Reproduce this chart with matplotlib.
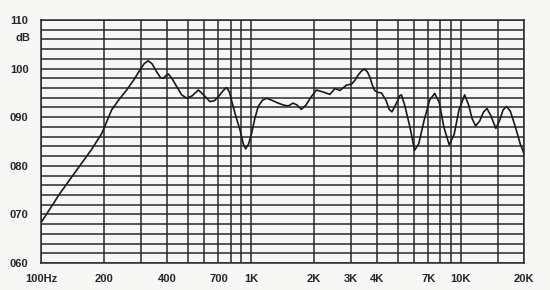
import matplotlib
matplotlib.use('Agg')
import matplotlib.pyplot as plt

# frequency response (Hz, dB)
freq = [100, 123, 153, 175, 195, 217, 235, 256, 278, 296, 310, 324, 338, 355,
        370, 383, 395, 404, 420, 443, 468, 495, 525, 562, 598, 638, 670, 699,
        735, 765, 790, 808, 850, 887, 920, 944, 975, 1008, 1045, 1084, 1135,
        1190, 1270, 1349, 1430, 1506, 1587, 1660, 1739, 1830, 1938, 2050, 2200,
        2378, 2515, 2656, 2851, 3013, 3130, 3246, 3360, 3485, 3590, 3684, 3790,
        3889, 4020, 4188, 4400, 4560, 4700, 4900, 5117, 5215, 5400, 5722, 6025,
        6300, 6700, 7100, 7510, 7900, 8300, 8808, 9300, 9800, 10430, 10900,
        11300, 11760, 12300, 12800, 13330, 13900, 14690, 15300, 15900, 16510,
        17200, 18200, 19200, 20000]
spl = [68.3, 74.3, 80.0, 83.5, 86.7, 91.5, 93.6, 95.6, 97.8, 99.7, 101.0, 101.6,
       101.0, 99.4, 98.2, 98.0, 98.6, 98.9, 98.0, 96.3, 94.6, 93.9, 94.4, 95.6,
       94.5, 93.2, 93.4, 94.2, 95.4, 96.1, 95.2, 93.5, 90.0, 87.4, 84.5, 83.5,
       84.5, 86.7, 89.8, 92.2, 93.5, 93.9, 93.4, 92.9, 92.5, 92.3, 92.9, 92.5,
       91.6, 92.5, 94.2, 95.6, 95.2, 94.7, 95.9, 95.5, 96.6, 96.8, 97.6, 98.7,
       99.5, 99.9, 99.3, 98.3, 96.6, 95.5, 95.1, 95.0, 93.5, 91.6, 91.1, 92.6,
       94.4, 94.6, 92.5, 88.0, 83.2, 84.5, 89.5, 93.5, 94.9, 93.0, 88.0, 84.3,
       86.5, 91.5, 94.6, 92.5, 89.8, 88.2, 89.2, 91.0, 91.8, 90.3, 87.7, 89.3,
       91.5, 92.2, 91.3, 88.0, 84.5, 82.5]

# grid and labels
grid_freqs = [100, 200, 300, 400, 500, 600, 700, 800, 900, 1000, 2000, 3000,
              4000, 5000, 6000, 7000, 8000, 9000, 10000, 15000, 20000]
grid_db = list(range(60, 111, 2))
xtick_vals = [100, 200, 400, 700, 1000, 2000, 3000, 4000, 7000, 10000, 20000]
xtick_labels = ['100Hz', '200', '400', '700', '1K', '2K', '3K', '4K', '7K', '10K', '20K']
ytick_vals = [60, 70, 80, 90, 100, 110]
ytick_labels = ['060', '070', '080', '090', '100', '110']

bg = '#f7f7f5'
ink = '#2a2a2a'
txt = '#262626'
plt.rcParams['font.family'] = ['Liberation Sans Narrow', 'Liberation Sans', 'DejaVu Sans']

fig = plt.figure(figsize=(5.5, 2.9), dpi=100, facecolor=bg)
ax = fig.add_axes([41 / 550, 1 - 263 / 290, 483 / 550, 243 / 290])
ax.set_facecolor(bg)
ax.set_xscale('log')
ax.set_xlim(100, 20000)
ax.set_ylim(60, 110)

for f in grid_freqs:
    ax.axvline(f, color=ink, lw=1.1, zorder=1)
for d in grid_db:
    ax.axhline(d, color=ink, lw=1.1, zorder=1)

ax.plot(freq, spl, color='#1a1a1a', lw=1.2, zorder=3)

ax.minorticks_off()
ax.set_xticks(xtick_vals)
ax.set_xticklabels(xtick_labels, fontweight='bold')
ax.set_yticks(ytick_vals)
ax.set_yticklabels(ytick_labels, fontweight='bold')
ax.tick_params(length=0, labelsize=8, colors=txt, pad=8)
ax.tick_params(axis='y', pad=9)
for s in ax.spines.values():
    s.set_color(ink)
    s.set_linewidth(1.1)

ax.text(-0.022, 106.3, 'dB', transform=ax.get_yaxis_transform(), ha='right',
        va='center', fontsize=8, fontweight='bold', color=txt)

fig.savefig('out.png', dpi=100, facecolor=bg)
